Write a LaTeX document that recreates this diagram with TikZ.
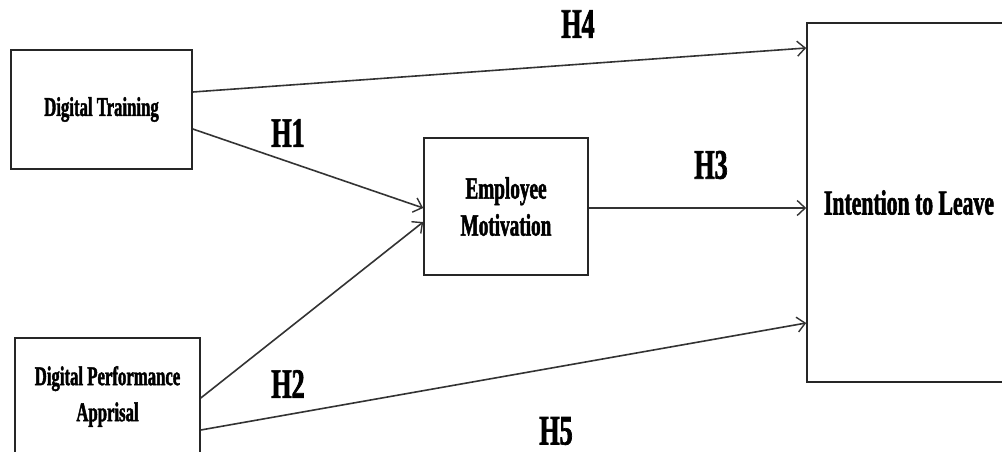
\documentclass[tikz,border=0pt]{standalone}
\usepackage{fontspec}
\usetikzlibrary{arrows.meta}
\newfontfamily\cf[FakeStretch=0.62,FakeBold=1.6,UprightFont={* Bold}]{Liberation Serif}
\begin{document}
\begin{tikzpicture}[x=1pt,y=-1pt,
  box/.style={draw=black!85, line width=1.6pt, inner sep=0pt, align=center, font=\cf\fontsize{27}{36}\selectfont},
  link/.style={draw=black!80, line width=1.6pt, -{Straight Barb[length=8pt,width=15pt,line width=1.4pt]}},
  hyp/.style={font=\cf\fontsize{42}{42}\selectfont, inner sep=0pt}]
\useasboundingbox (0,0) rectangle (1002,452);
\clip (0,0) rectangle (1002,452);
\node[box, minimum width=181pt, minimum height=119pt] (dt) at (101.5,109.5) {Digital Training};
\node[box, minimum width=185pt, minimum height=117pt] (dpa) at (107.5,396.5) {Digital Performance\\Apprisal};
\node[box, minimum width=164pt, minimum height=137pt, font=\cf\fontsize{31}{37}\selectfont] (em) at (506,206.5) {Employee\\Motivation};
\node[box, minimum width=204pt, minimum height=359pt, font=\cf\fontsize{35}{40}\selectfont] (il) at (909,202.5) {Intention to Leave};
\draw[link] ([yshift=17.5pt]dt.east) -- ([yshift=154.5pt]il.west);
\draw[link] ([yshift=-19.5pt]dt.east) -- ([yshift=-1.5pt]em.west);
\draw[link] ([yshift=-1.5pt]dpa.east) -- ([yshift=-15.5pt]em.west);
\draw[link] ([yshift=-33.5pt]dpa.east) -- ([yshift=-120.5pt]il.west);
\draw[link] ([yshift=-1.5pt]em.east) -- ([yshift=-5.5pt]il.west);
\node[hyp] (h4) at (578,24) {H4};
\node[hyp] (h1) at (288,133) {H1};
\node[hyp] (h3) at (711,165) {H3};
\node[hyp] (h2) at (288,384) {H2};
\node[hyp] (h5) at (556,431) {H5};
\end{tikzpicture}
\end{document}
